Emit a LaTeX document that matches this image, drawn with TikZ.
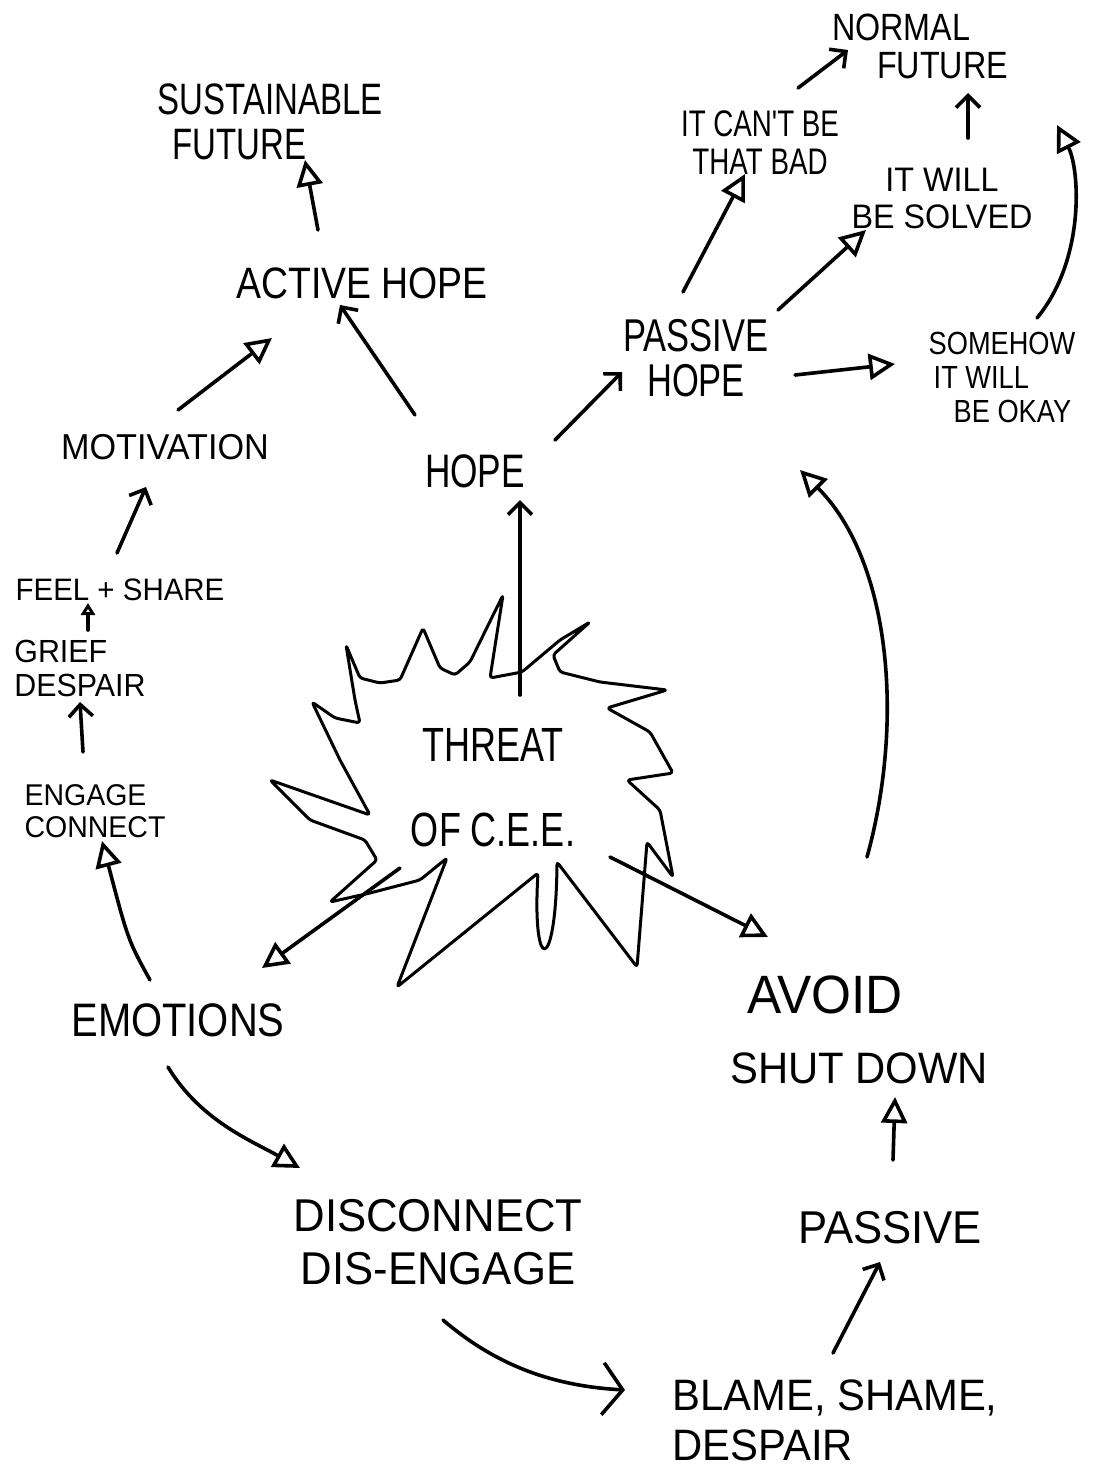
\documentclass[tikz,border=0pt]{standalone}
\usepackage{fontspec}
\usetikzlibrary{arrows.meta,calc}
\newfontfamily\hwS[FakeStretch=0.75]{Liberation Sans}
\newfontfamily\hwM[FakeStretch=0.85]{Liberation Sans}
\newfontfamily\hwL[FakeStretch=0.95]{Liberation Sans}
\tikzset{
 lbl/.style={inner sep=0pt, align=center},
 ink/.style={line width=3.6pt, line cap=round, line join=round},
 tri/.style={ink, -{Triangle[open,length=26pt,width=26pt]}},
 smalltri/.style={ink, -{Triangle[open,length=12pt,width=14pt]}},
 barb/.style={ink, -{Straight Barb[length=12pt,width=24pt]}},
 widebarb/.style={ink, -{Straight Barb[length=20pt,width=52pt]}},
}
\begin{document}
\begin{tikzpicture}[x=1pt,y=1pt]
\useasboundingbox (0,0) rectangle (1099,-1473);
% labels
\node[lbl,align=left,font=\hwS\fontsize{44}{45}\selectfont] (sust) at (270,-122) {SUSTAINABLE\\\hspace*{15pt}FUTURE};
\node[lbl,font=\hwM\fontsize{44}{44}\selectfont] (active) at (362,-283) {ACTIVE HOPE};
\node[lbl,font=\hwL\fontsize{36}{36}\selectfont] (motiv) at (165,-447) {MOTIVATION};
\node[lbl,font=\hwS\fontsize{47}{47}\selectfont] (hope) at (475,-471) {HOPE};
\node[lbl,font=\hwS\fontsize{46}{45}\selectfont] (passhope) at (696,-358) {PASSIVE\\HOPE};
\node[lbl,font=\hwS\fontsize{37}{38}\selectfont] (cantbe) at (760,-143) {IT CAN'T BE\\THAT BAD};
\node[lbl,align=left,font=\hwM\fontsize{38}{38}\selectfont] (normal) at (920,-46) {NORMAL\\\hspace*{45pt}FUTURE};
\node[lbl,font=\hwL\fontsize{34}{37}\selectfont] (solved) at (942,-198) {IT WILL\\BE SOLVED};
\node[lbl,align=left,font=\hwM\fontsize{32}{34}\selectfont] (somehow) at (1002,-377) {SOMEHOW\\\hspace*{5pt}IT WILL\\\hspace*{25pt}BE OKAY};
\node[lbl,font=\hwL\fontsize{31}{31}\selectfont] (feel) at (120,-590) {FEEL + SHARE};
\node[lbl,align=left,font=\hwL\fontsize{32}{34}\selectfont] (grief) at (80,-668) {GRIEF\\DESPAIR};
\node[lbl,align=left,font=\hwL\fontsize{30}{32}\selectfont] (engage) at (95,-811) {ENGAGE\\CONNECT};
\node[lbl,font=\hwS\fontsize{48}{85}\selectfont] (threat) at (493,-788) {THREAT\\OF C.E.E.};
\node[lbl,font=\hwM\fontsize{47}{47}\selectfont] (emotions) at (178,-1020) {EMOTIONS};
\node[lbl,font=\hwL\fontsize{44}{70}\selectfont] (avoid) at (859,-1030) {{\fontsize{54}{54}\selectfont AVOID}\hspace*{68pt}\\SHUT DOWN};
\node[lbl,font=\hwL\fontsize{46}{53}\selectfont] (disc) at (438,-1242) {DISCONNECT\\DIS-ENGAGE};
\node[lbl,font=\hwL\fontsize{46}{46}\selectfont] (passive) at (890,-1228) {PASSIVE};
\node[lbl,align=left,font=\hwL\fontsize{44}{50}\selectfont] (blame) at (835,-1420) {BLAME, SHAME,\\DESPAIR};
% burst around the threat
\draw[ink, line width=3pt, rounded corners=3pt] (346,-645) -- (355,-700) -- (360,-723) -- (335,-718) -- (312,-702) -- (340,-760) -- (370,-815) -- (270,-780) -- (310,-820) -- (365,-840) -- (377,-860) -- (330,-902) -- (370,-893) -- (420,-880) -- (447,-858) -- (397,-987) -- (538,-873) .. controls (532,-975) and (556,-975) .. (557,-862) -- (637,-967) -- (647,-842) -- (673,-877) -- (660,-810) -- (627,-780) -- (673,-773) -- (650,-732) -- (607,-708) -- (667,-690) -- (600,-682) -- (560,-672) -- (553,-655) -- (590,-622) -- (560,-640) -- (522,-672) -- (490,-678) -- (503,-595) -- (470,-662) -- (455,-675) -- (440,-668) -- (423,-628) -- (400,-680) -- (380,-683) -- (360,-678) -- cycle;
% connectors
\draw[tri] ($(active)+(-44,53)$) -- ($(sust)+(35,-38)$);
\draw[tri] ($(motiv)+(13,37)$) -- ($(active)+(-90,-55)$);
\draw[barb] ($(hope)+(-60,56)$) -- ($(active)+(-22,-22)$);
\draw[barb] ($(hope)+(80,31)$) -- ($(passhope)+(-74,-14)$);
\draw[tri] ($(passhope)+(-13,66)$) -- ($(cantbe)+(-15,-31)$);
\draw[tri] ($(passhope)+(82,48)$) -- ($(solved)+(-76,-32)$);
\draw[tri] ($(passhope)+(99,-17)$) -- ($(somehow)+(-107,13)$);
\draw[barb] ($(cantbe)+(38,55)$) -- ($(normal)+(-72,-4)$);
\draw[barb] ($(solved)+(26,60)$) -- ($(normal)+(48,-47)$);
\draw[tri] ($(somehow)+(35,59)$) .. controls ($(somehow)+(83,117)$) and ($(normal)+(160,-124)$) .. ($(normal)+(137,-79)$);
\draw[barb] ($(feel)+(-3,37)$) -- ($(motiv)+(-19,-40)$);
\draw[smalltri] ($(grief)+(8,38)$) -- ($(feel)+(-32,-13)$);
\draw[barb] ($(engage)+(-12,59)$) -- ($(grief)+(0,-34)$);
\draw[tri] ($(emotions)+(-28,40)$) .. controls ($(emotions)+(-50,80)$) .. ($(engage)+(7,-30)$);
\draw[barb] ($(threat)+(27,93)$) -- ($(hope)+(45,-29)$);
\draw[tri] ($(threat)+(-93,-80)$) -- ($(emotions)+(84,52)$);
\draw[tri] ($(threat)+(117,-69)$) -- ($(avoid)+(-91,93)$);
\draw[tri] ($(avoid)+(8,173)$) .. controls ($(avoid)+(46,310)$) and ($(passhope)+(194,-202)$) .. ($(passhope)+(104,-112)$);
\draw[tri] ($(emotions)+(-10,-47)$) .. controls ($(emotions)+(22,-100)$) and ($(disc)+(-188,102)$) .. ($(disc)+(-138,74)$);
\draw[widebarb] ($(disc)+(5,-78)$) .. controls ($(disc)+(60,-125)$) and ($(blame)+(-280,34)$) .. ($(blame)+(-210,30)$);
\draw[barb] ($(blame)+(-2,67)$) -- ($(passive)+(-10,-34)$);
\draw[tri] ($(passive)+(3,68)$) -- ($(avoid)+(36,-67)$);
\end{tikzpicture}
\end{document}
